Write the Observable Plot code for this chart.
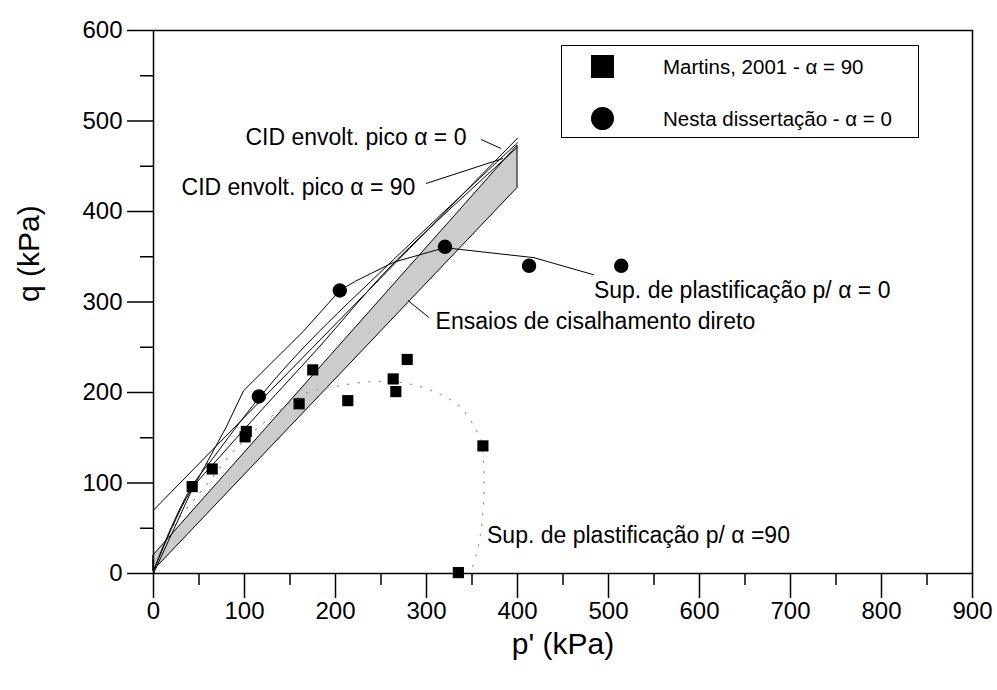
<!DOCTYPE html>
<html>
<head>
<meta charset="utf-8">
<script src="https://cdn.jsdelivr.net/npm/d3@7"></script>
<script src="https://cdn.jsdelivr.net/npm/@observablehq/plot@0.6"></script>
<style>
  body { margin: 0; background: #fff; font-family: "Liberation Sans", Arial, sans-serif; }
  #wrap { position: relative; width: 997px; height: 690px; }
  #legend { position: absolute; left: 561px; top: 45px; width: 358px; height: 93px;
            border: 1px solid #000; background: #fff; box-sizing: border-box; }
  .lrow { position: absolute; left: 0; height: 26px; width: 100%; }
  .sym { position: absolute; left: 29px; top: 1px; width: 23px; height: 23px; background: #000; }
  .sym.c { border-radius: 50%; }
  .ltxt { position: absolute; left: 101px; top: 0; line-height: 26px; font-size: 20.5px; color: #000; white-space: pre; }
</style>
</head>
<body>
<div id="wrap">
  <div id="chart"></div>
  <div id="legend">
    <div class="lrow" style="top:8px"><div class="sym"></div><div class="ltxt">Martins, 2001 - α = 90</div></div>
    <div class="lrow" style="top:60px"><div class="sym c"></div><div class="ltxt">Nesta dissertação - α = 0</div></div>
  </div>
</div>
<script>
// ---- data (p' kPa, q kPa) ----
const martinsP = [42.5, 64.5, 102, 100.7, 160, 175, 213.5, 263.4, 266.3, 278.8, 362, 335];
const martinsQ = [96, 115.5, 157, 151, 187.5, 225, 191, 215, 201, 236.5, 141, 1];

const nestaP = [115.8, 204.7, 320.3, 412.7, 514];
const nestaQ = [195.6, 312.7, 361, 340, 340];

// direct shear band
const bandP  = [0, 400];
const bandLo = [3, 426];
const bandHi = [20, 473];

// CID peak envelope (straight, cohesion intercept)
const envStraightP = [0, 400];
const envStraightQ = [70, 481];

// curved envelopes
const envAP = [0, 20, 42, 65, 116, 170, 264, 400];
const envAQ = [3, 52, 96, 127, 194, 255, 347, 476];
const envBP = [0, 20, 42, 72, 120, 180, 264, 400];
const envBQ = [3, 50, 93, 128, 182, 248, 343, 471];

// yield surface alpha = 0
const yield0P = [0, 42, 60, 80, 99, 129, 165, 205, 222, 264, 320, 418];
const yield0Q = [0, 92, 125, 162, 202, 232, 268, 313, 323, 344, 360, 349];

// yield surface alpha = 90 (dotted)
const yield90P = [0, 8, 20, 44, 60, 85, 110, 141, 170, 202, 240, 279, 315, 337, 352, 360, 363, 363, 360, 355, 350];
const yield90Q = [0, 25, 50, 81, 100, 132, 157, 182, 200, 207, 212, 210, 198, 184, 163, 145, 114, 86, 48, 22, 5];

// annotations
const labelText = ["CID envolt. pico α = 0", "CID envolt. pico α = 90", "Ensaios de cisalhamento direto",
                   "Sup. de plastificação p/ α = 0", "Sup. de plastificação p/ α =90"];
const labelP = [101, 30.8, 310, 484, 366.5];
const labelQ = [481.8, 426.5, 278.5, 312.7, 42];

const leaderP1 = [359.9, 299.4, 279.5, 418];
const leaderQ1 = [479.6, 430.9, 301.7, 349];
const leaderP2 = [381.9, 384.1, 302.7, 484];
const leaderQ2 = [469.6, 458.6, 282.9, 330];

const xTicks = d3.range(0, 901, 100);
const xMinor = d3.range(50, 900, 100);
const yTicks = d3.range(0, 601, 100);
const yMinor = d3.range(50, 600, 100);

// ---- tables ----
const zip = (xs, ys) => xs.map((x, i) => ({x, y: ys[i]}));
const band = bandP.map((p, i) => ({x: p, lo: bandLo[i], hi: bandHi[i]}));
const martins = zip(martinsP, martinsQ);
const nesta = zip(nestaP, nestaQ);
const labels = labelText.map((t, i) => ({t, x: labelP[i], y: labelQ[i]}));
const leaders = leaderP1.map((p, i) => ({x1: p, y1: leaderQ1[i], x2: leaderP2[i], y2: leaderQ2[i]}));

const font = "Liberation Sans, Arial, sans-serif";
const thin = {stroke: "black", strokeWidth: 1};

const chart = Plot.plot({
  width: 997,
  height: 690,
  marginLeft: 153,
  marginRight: 25,
  marginTop: 30,
  marginBottom: 117,
  x: {domain: [0, 900]},
  y: {domain: [0, 600]},
  style: {fontFamily: font, background: "white", color: "black", overflow: "visible"},
  marks: [
    Plot.areaY(band, {x: "x", y1: "lo", y2: "hi", fill: "#cccccc", ...thin}),
    Plot.line(zip(yield90P, yield90Q), {x: "x", y: "y", curve: "catmull-rom", stroke: "#9a9a9a", strokeWidth: 1.2, strokeDasharray: "1.5,9"}),
    Plot.line(zip(envStraightP, envStraightQ), {x: "x", y: "y", ...thin}),
    Plot.line(zip(envAP, envAQ), {x: "x", y: "y", curve: "catmull-rom", ...thin}),
    Plot.line(zip(envBP, envBQ), {x: "x", y: "y", curve: "catmull-rom", ...thin}),
    Plot.line(zip(yield0P, yield0Q), {x: "x", y: "y", ...thin}),
    Plot.link(leaders, {x1: "x1", y1: "y1", x2: "x2", y2: "y2", ...thin}),
    Plot.dot(martins, {x: "x", y: "y", symbol: "square", r: 6.3, fill: "black", stroke: "none"}),
    Plot.dot(nesta, {x: "x", y: "y", symbol: "circle", r: 7.2, fill: "black", stroke: "none"}),
    Plot.text(labels, {x: "x", y: "y", text: "t", textAnchor: "start", lineAnchor: "middle", fontSize: 23, fill: "black"}),
    Plot.frame({stroke: "black", strokeWidth: 1.5}),
    Plot.axisX({ticks: xTicks, tickSize: 25, text: null, strokeWidth: 1.5, label: null}),
    Plot.axisX({ticks: xMinor, tickSize: 12, text: null, strokeWidth: 1.5, label: null}),
    Plot.axisY({ticks: yTicks, tickSize: 26, text: null, strokeWidth: 1.5, label: null}),
    Plot.axisY({ticks: yMinor, tickSize: 13, text: null, strokeWidth: 1.5, label: null}),
    Plot.text(xTicks, {x: d => d, frameAnchor: "bottom", dy: 38, lineAnchor: "middle", text: d => String(d), fontSize: 24, fill: "black"}),
    Plot.text(yTicks, {y: d => d, frameAnchor: "left", dx: -31, textAnchor: "end", lineAnchor: "middle", text: d => String(d), fontSize: 24, fill: "black"}),
    Plot.text(["p' (kPa)"], {frameAnchor: "bottom", dy: 80, fontSize: 30, fill: "black"}),
    Plot.text(["q (kPa)"], {frameAnchor: "left", dx: -124, rotate: -90, fontSize: 30, fill: "black"})
  ]
});
document.getElementById("chart").appendChild(chart);
</script>
</body>
</html>
